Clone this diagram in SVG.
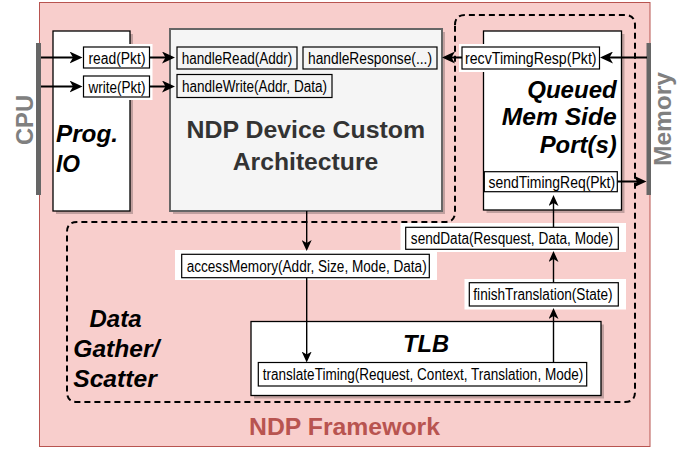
<svg xmlns="http://www.w3.org/2000/svg" width="694" height="449" viewBox="0 0 694 449">
  <style>
    .lbl { font-family: "Liberation Sans", Arial, sans-serif; font-size: 16px; fill: #000; text-anchor: middle; }
    .lblbox { fill: none; stroke: #000; stroke-width: 1.2; }
    .pad { fill: #fff; }
    .bi { font-family: "Liberation Sans", Arial, sans-serif; font-size: 23px; font-weight: bold; font-style: italic; fill: #000; }
    .title { font-family: "Liberation Sans", Arial, sans-serif; font-size: 23px; font-weight: bold; fill: #333; text-anchor: middle; }
    .side { font-family: "Liberation Sans", Arial, sans-serif; font-size: 24px; font-weight: bold; fill: #808080; text-anchor: middle; }
    .shadow { fill: #000; fill-opacity: 0.22; }
    .blk { fill: #fff; stroke: #000; stroke-width: 1.3; }
    .bar { fill: #666; }
    .thick { fill: none; stroke: #000; stroke-width: 2; marker-end: url(#ah); }
    .thin { fill: none; stroke: #000; stroke-width: 1.4; marker-end: url(#as); }
  </style>
  <defs>
    <marker id="ah" viewBox="0 0 13 12" markerWidth="13" markerHeight="12" refX="8" refY="6" markerUnits="userSpaceOnUse" orient="auto">
      <path d="M0,0 L13,6 L0,12 L3.5,6 Z" fill="#000"/>
    </marker>
    <marker id="as" viewBox="0 0 11 10" markerWidth="11" markerHeight="10" refX="6" refY="5" markerUnits="userSpaceOnUse" orient="auto">
      <path d="M0,0 L11,5 L0,10 L3,5 Z" fill="#000"/>
    </marker>
  </defs>

  <!-- framework container -->
  <g id="framework">
    <rect x="39.5" y="2.5" width="610.5" height="444" fill="#f8cecc" stroke="#b85450" stroke-width="1"/>
    <text x="344.5" y="435" font-family="Liberation Sans, Arial, sans-serif" font-size="24" font-weight="bold" fill="#b85450" text-anchor="middle" textLength="191" lengthAdjust="spacingAndGlyphs">NDP Framework</text>
  </g>

  <!-- data gather / scatter region -->
  <g id="gather-scatter">
    <path d="M455,25 Q455,15 465,15 L625,15 Q635,15 635,25 L635,392 Q635,402 625,402 L77,402 Q67,402 67,392 L67,232 Q67,222 77,222 L445,222 Q455,222 455,212 Z" fill="none" stroke="#000" stroke-width="2" stroke-dasharray="6 4"/>
    <text class="bi" x="115.5" y="327" text-anchor="middle" textLength="52" lengthAdjust="spacingAndGlyphs">Data</text>
    <text class="bi" x="116.3" y="357" text-anchor="middle" textLength="86" lengthAdjust="spacingAndGlyphs">Gather/</text>
    <text class="bi" x="115" y="387" text-anchor="middle" textLength="83.5" lengthAdjust="spacingAndGlyphs">Scatter</text>
  </g>

  <!-- CPU side -->
  <g id="cpu">
    <rect class="bar" x="36" y="43" width="5" height="152"/>
    <text class="side" transform="translate(33.3,120) rotate(-90)" textLength="50" lengthAdjust="spacingAndGlyphs">CPU</text>
  </g>

  <!-- memory side -->
  <g id="memory">
    <rect class="bar" x="646.5" y="43" width="4.5" height="152"/>
    <text class="side" transform="translate(671,119) rotate(-90)" textLength="94" lengthAdjust="spacingAndGlyphs">Memory</text>
  </g>

  <!-- programmable IO block -->
  <g id="prog-io">
    <rect class="shadow" x="56" y="34" width="77" height="180"/>
    <rect class="blk" x="53" y="31" width="77" height="180"/>
    <text class="bi" x="56" y="142" textLength="62" lengthAdjust="spacingAndGlyphs">Prog.</text>
    <text class="bi" x="56" y="171.5" textLength="24" lengthAdjust="spacingAndGlyphs">IO</text>
    <rect class="pad" x="80.5" y="44" width="72" height="56"/>
    <rect class="lblbox" x="83.5" y="47" width="66" height="21"/>
    <text class="lbl" x="117" y="63.5" textLength="57" lengthAdjust="spacingAndGlyphs">read(Pkt)</text>
    <rect class="lblbox" x="83.5" y="76" width="66" height="21"/>
    <text class="lbl" x="117" y="92.5" textLength="57" lengthAdjust="spacingAndGlyphs">write(Pkt)</text>
  </g>

  <!-- NDP device block -->
  <g id="ndp-device">
    <rect class="shadow" x="173" y="32" width="272" height="182"/>
    <rect x="170" y="29" width="272" height="182" fill="#f5f5f5" stroke="#666" stroke-width="2"/>
    <rect class="lblbox" x="177" y="47" width="120" height="22"/>
    <text class="lbl" x="237" y="64" textLength="110.5" lengthAdjust="spacingAndGlyphs">handleRead(Addr)</text>
    <rect class="lblbox" x="303" y="47" width="134" height="22"/>
    <text class="lbl" x="370" y="64" textLength="124" lengthAdjust="spacingAndGlyphs">handleResponse(...)</text>
    <rect class="lblbox" x="177" y="74.5" width="155" height="23"/>
    <text class="lbl" x="254.5" y="92" textLength="145" lengthAdjust="spacingAndGlyphs">handleWrite(Addr, Data)</text>
    <text class="title" x="305.8" y="138.3" textLength="238.5" lengthAdjust="spacingAndGlyphs">NDP Device Custom</text>
    <text class="title" x="305.5" y="170" textLength="145.5" lengthAdjust="spacingAndGlyphs">Architecture</text>
  </g>

  <!-- queued memory side port block -->
  <g id="mem-side-port">
    <rect class="shadow" x="486.5" y="34" width="138" height="179"/>
    <rect class="blk" x="483.5" y="31" width="138" height="179"/>
    <text class="bi" x="616.7" y="97.5" text-anchor="end" textLength="89.5" lengthAdjust="spacingAndGlyphs">Queued</text>
    <text class="bi" x="616.7" y="125" text-anchor="end" textLength="115" lengthAdjust="spacingAndGlyphs">Mem Side</text>
    <text class="bi" x="616.7" y="152.5" text-anchor="end" textLength="77" lengthAdjust="spacingAndGlyphs">Port(s)</text>
    <rect class="pad" x="459" y="44" width="143.5" height="28"/>
    <rect class="lblbox" x="462" y="47" width="137.5" height="22"/>
    <text class="lbl" x="530.8" y="64" textLength="131.5" lengthAdjust="spacingAndGlyphs">recvTimingResp(Pkt)</text>
    <rect class="lblbox" x="484.3" y="171.7" width="133" height="20"/>
    <text class="lbl" x="551.8" y="187.5" textLength="126.5" lengthAdjust="spacingAndGlyphs">sendTimingReq(Pkt)</text>
  </g>

  <!-- TLB block -->
  <g id="tlb">
    <rect class="shadow" x="254" y="324.5" width="350" height="74"/>
    <rect class="blk" x="251" y="321.5" width="350" height="74"/>
    <text class="bi" x="426" y="352" text-anchor="middle" textLength="46" lengthAdjust="spacingAndGlyphs">TLB</text>
    <rect class="lblbox" x="258.3" y="362.5" width="328.4" height="23.5"/>
    <text class="lbl" x="423" y="379.5" textLength="320.5" lengthAdjust="spacingAndGlyphs">translateTiming(Request, Context, Translation, Mode)</text>
  </g>

  <!-- access memory call -->
  <g id="access-memory">
    <rect class="pad" x="175" y="250" width="262" height="30"/>
    <rect class="lblbox" x="181.7" y="254.3" width="247.6" height="23.4"/>
    <text class="lbl" x="306.7" y="272" textLength="240" lengthAdjust="spacingAndGlyphs">accessMemory(Addr, Size, Mode, Data)</text>
  </g>

  <!-- send data call -->
  <g id="send-data">
    <rect class="pad" x="400.5" y="223" width="225.5" height="29"/>
    <rect class="lblbox" x="405.7" y="227.3" width="212.6" height="22"/>
    <text class="lbl" x="512" y="244" textLength="202.3" lengthAdjust="spacingAndGlyphs">sendData(Resquest, Data, Mode)</text>
  </g>

  <!-- finish translation call -->
  <g id="finish-translation">
    <rect class="pad" x="464.5" y="279" width="161.5" height="30.5"/>
    <rect class="lblbox" x="469.3" y="282.7" width="149" height="23.3"/>
    <text class="lbl" x="543" y="300" textLength="139.3" lengthAdjust="spacingAndGlyphs">finishTranslation(State)</text>
  </g>

  <!-- connectors -->
  <g id="connectors">
    <path class="thick" d="M41,57.5 L77.5,57.5"/>
    <path class="thick" d="M150,57.5 L170,57.5"/>
    <path class="thick" d="M41,86.5 L77.5,86.5"/>
    <path class="thick" d="M150,86.5 L170,86.5"/>
    <path class="thick" d="M647,57.5 L605,57.5"/>
    <path class="thick" d="M462,57.5 L447,57.5"/>
    <path class="thick" d="M617.5,181.5 L641.5,181.5"/>
    <path class="thin" d="M553.5,227 L553.5,200"/>
    <path class="thin" d="M553.5,282.5 L553.5,256"/>
    <path class="thin" d="M553.5,362 L553.5,313"/>
    <path class="thin" d="M306.7,211 L306.7,246"/>
    <path class="thin" d="M306.7,278 L306.7,357.5"/>
  </g>
</svg>
